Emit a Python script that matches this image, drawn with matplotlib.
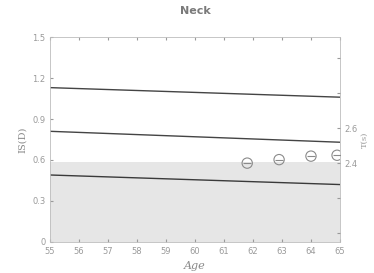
import matplotlib
matplotlib.use("Agg")
import matplotlib.pyplot as plt

# ages on the x axis
ages = [55, 60, 65]
x_ticks = [55, 56, 57, 58, 59, 60, 61, 62, 63, 64, 65]

# three reference lines (left axis)
upper_line = [1.13, 1.095, 1.06]
middle_line = [0.81, 0.77, 0.73]
lower_line = [0.49, 0.455, 0.42]
shade_level = 0.585

# measured points (right axis)
point_ages = [61.8, 62.9, 64.0, 64.9]
point_t = [2.40, 2.42, 2.44, 2.445]

axis_grey = "#bdbdbd"
text_grey = "#9a9a9a"

fig = plt.figure(figsize=(3.74, 2.73), dpi=100)
ax = fig.add_axes([0.134, 0.114, 0.775, 0.75])

ax.fill_between([55, 65], 0, shade_level, color="#e6e6e6", lw=0)
ax.plot(ages, upper_line, color="#444444", lw=1.0)
ax.plot(ages, middle_line, color="#444444", lw=1.0)
ax.plot(ages, lower_line, color="#3a3a3a", lw=1.0)

ax.set_xlim(55, 65)
ax.set_ylim(0, 1.5)
ax.set_xticks(x_ticks)
ax.set_yticks([0, 0.3, 0.6, 0.9, 1.2, 1.5])
ax.set_yticklabels(["0", "0.3", "0.6", "0.9", "1.2", "1.5"])
ax.tick_params(labelsize=6, colors=text_grey, length=2, direction="in", top=True)
for s in ax.spines.values():
    s.set_color(axis_grey)
    s.set_linewidth(0.6)

ax.set_xlabel("Age", fontsize=8, style="italic", family="DejaVu Serif", color="#888888")
ax.set_ylabel("IS(D)", fontsize=7, family="DejaVu Serif", color="#888888")
ax.set_title("Neck", fontsize=8, fontweight="bold", color="#7a7a7a", pad=17)

ax2 = ax.twinx()
ax2.set_ylim(1.95, 3.12)
ax2.set_yticks([2.0, 2.2, 2.4, 2.6, 2.8, 3.0])
ax2.set_yticklabels(["", "", "2.4", "2.6", "", ""])
ax2.tick_params(labelsize=6, colors=text_grey, length=2, direction="in")
for s in ax2.spines.values():
    s.set_visible(False)
ax2.scatter(point_ages, point_t, s=55, facecolors="none", edgecolors="#8a8a8a", linewidths=0.8, zorder=3)
ax2.scatter(point_ages, point_t, s=35, marker="_", color="#8a8a8a", linewidths=0.8, zorder=3)
ax2.set_ylabel("T(s)", fontsize=6, family="DejaVu Serif", color=text_grey, labelpad=2)

fig.savefig("out.png", dpi=100)
